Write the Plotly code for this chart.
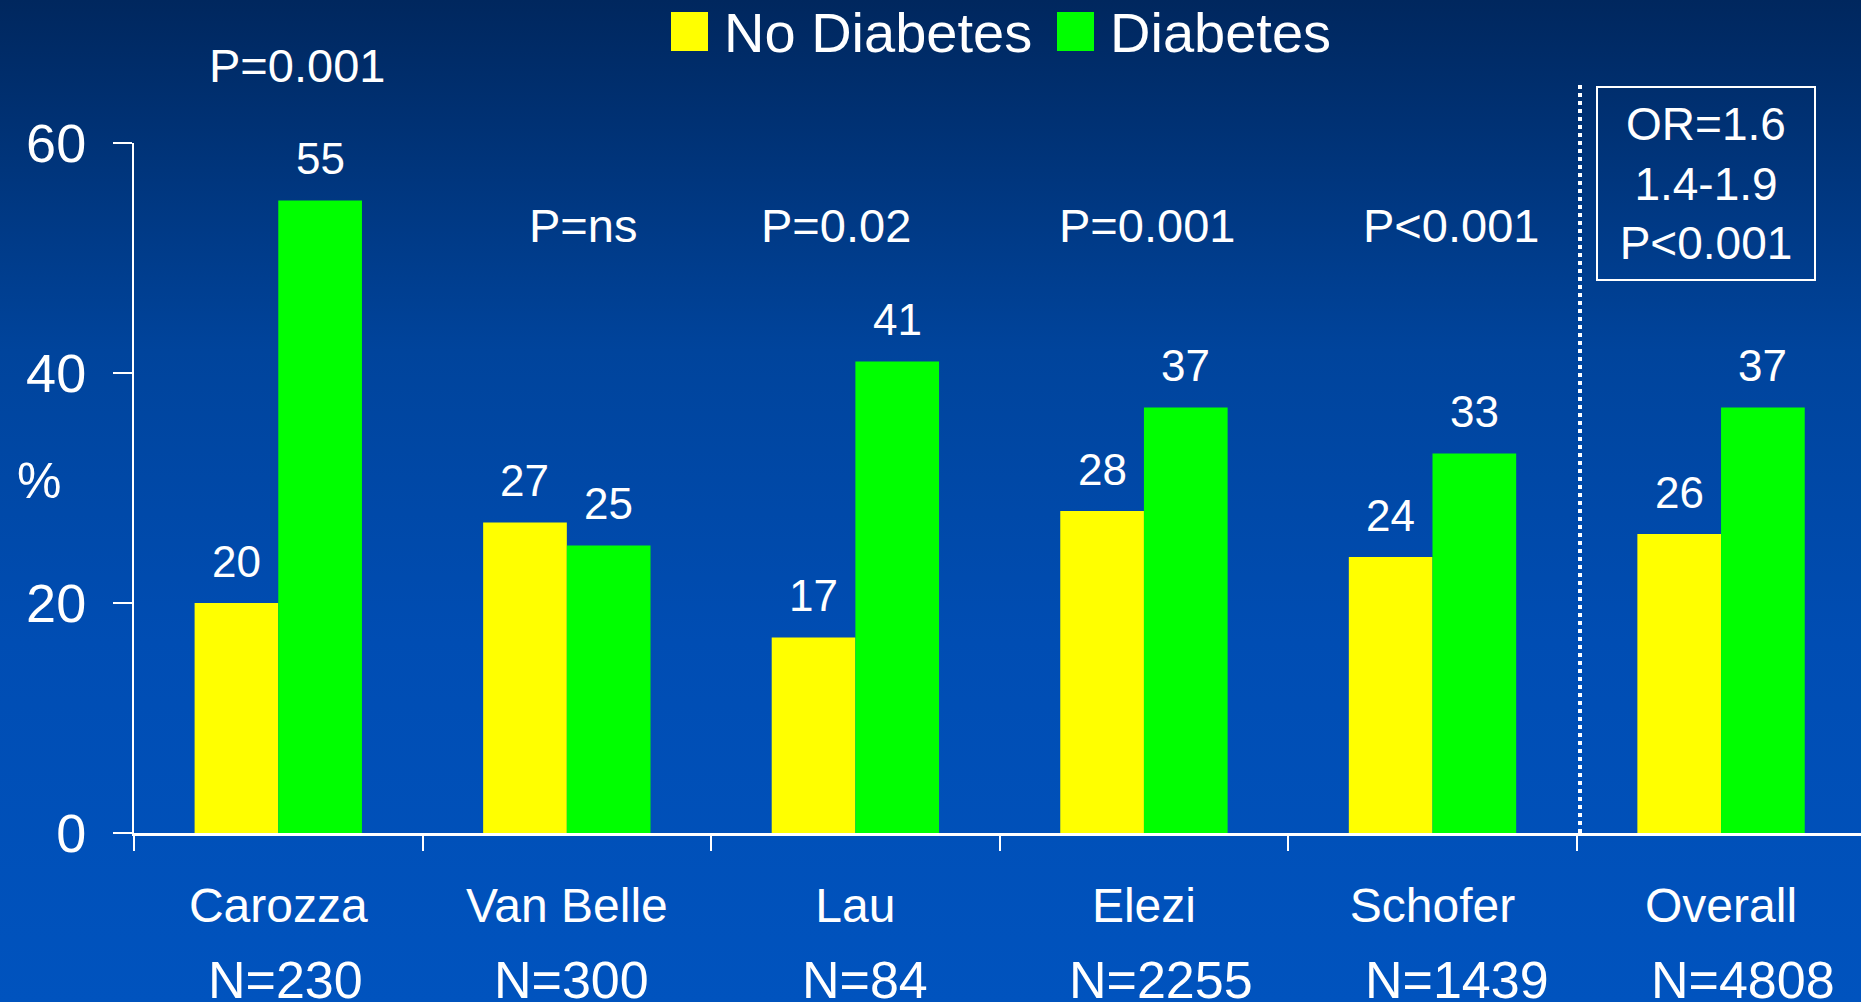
import base64
import plotly.graph_objects as go

# Study data: in-hospital event rates (%) by diabetes status
studies = ["Carozza", "Van Belle", "Lau", "Elezi", "Schofer", "Overall"]
sample_sizes = ["N=230", "N=300", "N=84", "N=2255", "N=1439", "N=4808"]
no_diabetes = [20, 27, 17, 28, 24, 26]
diabetes = [55, 25, 41, 37, 33, 37]
p_values = ["P=0.001", "P=ns", "P=0.02", "P=0.001", "P&lt;0.001"]
pooled_text = ["OR=1.6", "1.4-1.9", "P&lt;0.001"]
y_ticks = [0, 20, 40, 60]

# Canvas and plot-area geometry (pixels)
W, H = 1861, 1002
L, R, T, B = 134, 0, 143, 169
PW, PH = W - L - R, H - T - B
X_RANGE = [-0.5, 5.485]
FONT = "Liberation Sans, Arial, Helvetica, sans-serif"
WHITE = "#FFFFFF"
YELLOW = "#FFFF00"
GREEN = "#00FF00"


def px(X):
    return (X - L) / PW


def py(Y):
    return (H - B - Y) / PH


fig = go.Figure()
fig.add_trace(go.Bar(x=studies, y=no_diabetes, name="No Diabetes",
                     marker=dict(color=YELLOW, line=dict(width=0)), showlegend=False))
fig.add_trace(go.Bar(x=studies, y=diabetes, name="Diabetes",
                     marker=dict(color=GREEN, line=dict(width=0)), showlegend=False))

annotations = []
bar_gap = 0.42
# half of one bar's width: two bars share each category slot
slot = PW / (X_RANGE[1] - X_RANGE[0])
half_bar = slot * (1 - bar_gap) / 4

# value labels above each bar
for i, s in enumerate(studies):
    for vals, sign in ((no_diabetes, -1), (diabetes, 1)):
        annotations.append(dict(x=s, y=vals[i], xref="x", yref="y", text=str(vals[i]),
                                showarrow=False, xshift=sign * half_bar, yshift=42,
                                yanchor="middle", font=dict(size=44, color=WHITE, family=FONT)))

# p-value labels above each study
p_xshift = [19, 16, -19, 3, 18]
p_ypix = [66, 225, 225, 225, 225]
for i, txt in enumerate(p_values):
    annotations.append(dict(x=studies[i], y=py(p_ypix[i]), xref="x", yref="paper", text=txt,
                            showarrow=False, xshift=p_xshift[i], yanchor="middle",
                            font=dict(size=47, color=WHITE, family=FONT)))

# sample sizes under category names
n_xshift = [7, 5, 10, 17, 24, 22]
for i, txt in enumerate(sample_sizes):
    annotations.append(dict(x=studies[i], y=py(980), xref="x", yref="paper", text=txt,
                            showarrow=False, xshift=n_xshift[i], yanchor="middle",
                            font=dict(size=52, color=WHITE, family=FONT)))

# y-axis unit
annotations.append(dict(x=px(39), y=py(481), xref="paper", yref="paper", text="%",
                        showarrow=False, xanchor="center", yanchor="middle",
                        font=dict(size=50, color=WHITE, family=FONT)))

# pooled odds ratio box
annotations.append(dict(x=px(1706), y=py(183), xref="paper", yref="paper",
                        text="<br>".join(pooled_text), showarrow=False,
                        xanchor="center", yanchor="middle", align="center",
                        width=216, height=191, borderpad=0,
                        bordercolor=WHITE, borderwidth=2,
                        font=dict(size=46, color=WHITE, family=FONT)))

# legend entries: (label, colour, square left edge, text left edge)
legend_items = [("No Diabetes", YELLOW, 671, 722), ("Diabetes", GREEN, 1057, 1108)]
shapes = []
for label, color, x0, tx in legend_items:
    shapes.append(dict(type="rect", xref="paper", yref="paper",
                       x0=px(x0), x1=px(x0 + 37), y0=py(51), y1=py(12),
                       fillcolor=color, line=dict(width=0), layer="above"))
    annotations.append(dict(x=px(tx), y=py(32), xref="paper", yref="paper", text=label,
                            showarrow=False, xanchor="left", yanchor="middle",
                            font=dict(size=56, color=WHITE, family=FONT)))

# dotted separator before the pooled group
shapes.append(dict(type="line", xref="paper", yref="paper",
                   x0=px(1580), x1=px(1580), y0=py(833), y1=py(85),
                   line=dict(color=WHITE, width=4, dash="dot")))

# vertical background gradient
svg = (
    f'<svg xmlns="http://www.w3.org/2000/svg" width="{W}" height="{H}" '
    f'viewBox="0 0 {W} {H}" preserveAspectRatio="none">'
    '<defs><linearGradient id="g" x1="0" y1="0" x2="0" y2="1">'
    '<stop offset="0" stop-color="#00275E"/>'
    '<stop offset="0.35" stop-color="#00449C"/>'
    '<stop offset="0.64" stop-color="#004DB3"/>'
    '<stop offset="1" stop-color="#0053BE"/>'
    '</linearGradient></defs>'
    f'<rect x="0" y="0" width="{W}" height="{H}" fill="url(#g)"/></svg>'
)
bg_src = "data:image/svg+xml;base64," + base64.b64encode(svg.encode()).decode()

fig.update_layout(
    width=W, height=H,
    margin=dict(l=L, r=R, t=T, b=B, pad=0),
    paper_bgcolor="#003F94",
    plot_bgcolor="rgba(0,0,0,0)",
    barmode="group", bargap=bar_gap, bargroupgap=0,
    showlegend=False,
    font=dict(family=FONT, color=WHITE),
    annotations=annotations,
    shapes=shapes,
    images=[dict(source=bg_src, xref="paper", yref="paper",
                 x=px(0), y=py(0), sizex=W / PW, sizey=H / PH,
                 xanchor="left", yanchor="top", sizing="stretch", layer="below")],
    xaxis=dict(type="category", tickson="boundaries", ticks="outside", ticklen=15,
               tickwidth=2, tickcolor=WHITE, showline=True, linecolor=WHITE, linewidth=3,
               showgrid=False, zeroline=False, range=X_RANGE,
               tickfont=dict(size=48, color=WHITE, family=FONT), ticklabelstandoff=28),
    yaxis=dict(range=[0, 60], tickvals=y_ticks, ticks="outside", ticklen=19, tickwidth=2,
               tickcolor=WHITE, showline=True, linecolor=WHITE, linewidth=2,
               showgrid=False, zeroline=False,
               tickfont=dict(size=54, color=WHITE, family=FONT), ticklabelstandoff=16),
)

fig.write_html("out.html")
